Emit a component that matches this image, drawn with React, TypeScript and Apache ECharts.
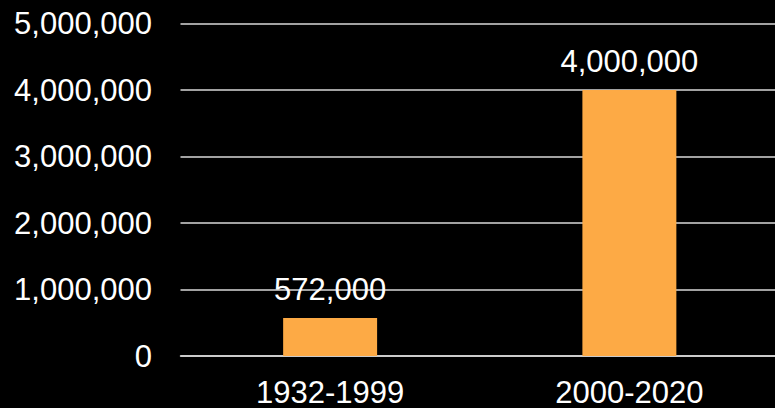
import React, { useEffect, useRef } from "react";
import * as echarts from "echarts";

const categories = ["1932-1999", "2000-2020"];
const values = [572000, 4000000];
const yTicks = { min: 0, max: 5000000, interval: 1000000 };

const fmt = (v: number) => Math.round(v).toLocaleString("en-US");

export default function App() {
  const ref = useRef<HTMLDivElement>(null);
  useEffect(() => {
    document.body.style.margin = "0";
    document.body.style.background = "#000";
    const chart = echarts.init(ref.current!, null, { renderer: "svg" });
    const font = "'Liberation Sans', Arial, sans-serif";
    chart.setOption({
      animation: false,
      backgroundColor: "#000000",
      grid: { left: 180.5, right: 0, top: 23.5, bottom: 51.5, containLabel: false },
      xAxis: {
        type: "category",
        data: categories,
        axisTick: { show: false },
        axisLine: { show: true, lineStyle: { color: "#d9d9d9", width: 1.5 } },
        axisLabel: { color: "#ffffff", fontSize: 31, fontFamily: font, margin: 21 },
      },
      yAxis: {
        type: "value",
        min: yTicks.min,
        max: yTicks.max,
        interval: yTicks.interval,
        axisLine: { show: false },
        axisTick: { show: false },
        splitLine: { show: true, lineStyle: { color: "#d9d9d9", width: 1.5 } },
        axisLabel: {
          color: "#ffffff",
          fontSize: 31,
          fontFamily: font,
          margin: 28.5,
          formatter: (v: number) => fmt(v),
        },
      },
      series: [
        {
          type: "bar",
          data: values,
          barWidth: "31.4%",
          itemStyle: { color: "#FDAA45" },
          label: {
            show: true,
            position: "top",
            distance: 13,
            color: "#ffffff",
            fontSize: 31,
            fontFamily: font,
            formatter: (p: any) => fmt(p.value),
          },
        },
      ],
    });
    return () => chart.dispose();
  }, []);
  return (
    <div
      style={{ position: "fixed", left: 0, top: 0, width: 775, height: 408, overflow: "hidden", background: "#000" }}
    >
      <div ref={ref} style={{ width: 779, height: 408 }} />
    </div>
  );
}
